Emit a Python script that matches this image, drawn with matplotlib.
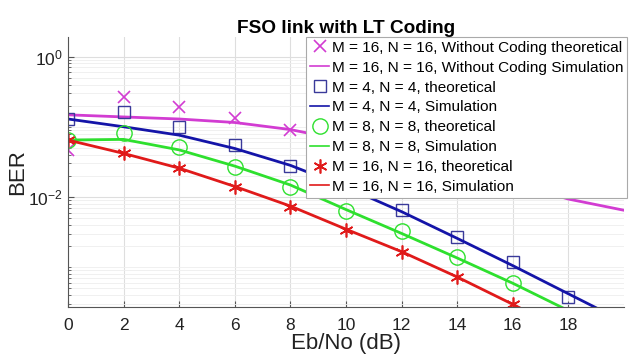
import matplotlib
matplotlib.use("Agg")
import matplotlib.pyplot as plt
from matplotlib.ticker import FixedLocator, LogLocator, NullFormatter, LogFormatterSciNotation

plt.rcParams['font.family'] = ['Liberation Sans', 'DejaVu Sans']
plt.rcParams['mathtext.fontset'] = 'custom'
plt.rcParams['mathtext.rm'] = 'Liberation Sans'
plt.rcParams['mathtext.it'] = 'Liberation Sans:italic'

# ---- data ----
snr_db = [0, 2, 4, 6, 8, 10, 12, 14, 16, 18, 20]
snr_theo = [0, 2, 4, 6, 8, 10, 12, 14, 16, 18]
snr_uncoded_theo = [0, 2, 4, 6, 8]

uncoded_theo = [0.0468, 0.269, 0.191, 0.132, 0.0891]
uncoded_sim = [0.148, 0.138, 0.129, 0.115, 0.0912, 0.0631, 0.0398, 0.0251, 0.0158, 0.00933, 0.00646]

m4_theo = [0.129, 0.162, 0.100, 0.055, 0.0275, 0.0135, 0.00646, 0.00269, 0.00117, 0.000372]
m4_sim = [0.129, 0.100, 0.0759, 0.049, 0.0282, 0.0138, 0.00617, 0.00257, 0.00105, 0.000417, 0.000166]

m8_theo = [0.0646, 0.0813, 0.0513, 0.0269, 0.0138, 0.00631, 0.00324, 0.00138, 0.000589]
m8_sim = [0.0646, 0.0661, 0.0468, 0.0275, 0.0148, 0.00661, 0.00302, 0.00135, 0.000589, 0.00024, 0.0001]

m16_theo = [0.0646, 0.0417, 0.0257, 0.0138, 0.00724, 0.00339, 0.00162, 0.000724, 0.000302]
m16_sim = [0.0646, 0.0417, 0.0257, 0.0141, 0.00741, 0.00347, 0.00166, 0.000724, 0.000295, 0.000117]

labels = [
    "M = 16, N = 16, Without Coding theoretical",
    "M = 16, N = 16, Without Coding Simulation",
    "M = 4, N = 4, theoretical",
    "M = 4, N = 4, Simulation",
    "M = 8, N = 8, theoretical",
    "M = 8, N = 8, Simulation",
    "M = 16, N = 16, theoretical",
    "M = 16, N = 16, Simulation",
]

c_mag = '#d23cd2'
c_blue = '#1414a8'
c_blue_m = '#3a3a9a'
c_green = '#2ee02e'
c_red = '#e01a1a'

fig = plt.figure(figsize=(6.31, 3.56), dpi=100)
ax = fig.add_axes([0.1078, 0.1376, 0.881, 0.7584])

ax.plot(snr_uncoded_theo, uncoded_theo, linestyle='none', marker='x', ms=8.5, mew=1.2,
        color=c_mag, label=labels[0])
ax.plot(snr_db, uncoded_sim, '-', lw=2, color=c_mag, label=labels[1])
ax.plot(snr_theo, m4_theo, linestyle='none', marker='s', ms=8.5, mfc='none', mew=1.0,
        color=c_blue_m, label=labels[2])
ax.plot(snr_db, m4_sim, '-', lw=2, color=c_blue, label=labels[3])
ax.plot(snr_theo[:len(m8_theo)], m8_theo, linestyle='none', marker='o', ms=11, mfc='none', mew=1.0,
        color=c_green, label=labels[4])
ax.plot(snr_db, m8_sim, '-', lw=2, color=c_green, label=labels[5])
ax.plot(snr_theo[:len(m16_theo)], m16_theo, linestyle='none', marker=(6, 2, 0), ms=10, mew=1.2,
        color=c_red, label=labels[6])
ax.plot(snr_db[:len(m16_sim)], m16_sim, '-', lw=2, color=c_red, label=labels[7])

ax.set_yscale('log')
ax.set_xlim(0, 20)
ax.set_ylim(2.7e-4, 1.9)
ax.xaxis.set_major_locator(FixedLocator([0, 2, 4, 6, 8, 10, 12, 14, 16, 18]))
ax.yaxis.set_major_locator(FixedLocator([1e-2, 1e0]))
ax.yaxis.set_major_formatter(LogFormatterSciNotation())
ax.yaxis.set_minor_locator(LogLocator(base=10, subs=range(1, 10), numticks=20))
ax.yaxis.set_minor_formatter(NullFormatter())

ax.grid(True, which='major', color='#dedede', lw=0.8)
ax.grid(True, which='minor', axis='y', color='#eeeeee', lw=0.6)
ax.set_axisbelow(True)

for s in ['top', 'right']:
    ax.spines[s].set_visible(False)
for s in ['left', 'bottom']:
    ax.spines[s].set_color('#555555')
    ax.spines[s].set_linewidth(0.8)
ax.tick_params(which='both', direction='in', colors='#555555', labelcolor='#222222', labelsize=12.5)
ax.tick_params(which='major', length=4)
ax.tick_params(which='minor', length=2)
ax.tick_params(axis='x', pad=8)

ax.set_xlabel('Eb/No (dB)', fontsize=16, color='#222222', labelpad=0)
ax.set_ylabel('BER', fontsize=16, color='#222222', labelpad=0)
ax.set_title('FSO link with LT Coding', fontsize=13.7, fontweight='bold', pad=3)

leg = ax.legend(loc='upper right', bbox_to_anchor=(1.006, 1.0), fontsize=11.1, handlelength=1.2,
                handletextpad=0.2, borderpad=0.25, labelspacing=0.38, borderaxespad=0.0,
                fancybox=False, framealpha=1.0, edgecolor='#aaaaaa')
leg.get_frame().set_linewidth(0.8)
for line in leg.get_lines():
    line.set_linewidth(1.2)

fig.savefig('out.png', dpi=100)
